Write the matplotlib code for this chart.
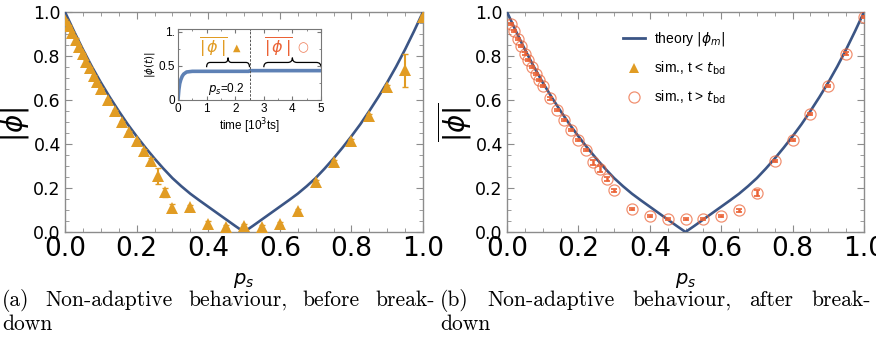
import matplotlib
matplotlib.use("Agg")
import matplotlib.pyplot as plt
from matplotlib.lines import Line2D
from matplotlib.path import Path
from matplotlib.patches import PathPatch
from matplotlib.ticker import MultipleLocator

plt.rcParams['mathtext.fontset'] = 'dejavusans'
plt.rcParams['font.family'] = ['Liberation Sans', 'DejaVu Sans']

# ---------------- data ----------------
theory_p = [0.0, 0.025, 0.05, 0.075, 0.1, 0.125, 0.15, 0.175, 0.2, 0.225, 0.25, 0.275,
            0.3, 0.325, 0.35, 0.375, 0.4, 0.425, 0.45, 0.475, 0.5,
            0.525, 0.55, 0.575, 0.6, 0.625, 0.65, 0.675, 0.7, 0.725, 0.75, 0.775,
            0.8, 0.825, 0.85, 0.875, 0.9, 0.925, 0.95, 0.975, 1.0]
theory_phi = [1.0, 0.913, 0.83, 0.752, 0.68, 0.613, 0.55, 0.49, 0.435, 0.383, 0.334, 0.288,
              0.245, 0.208, 0.174, 0.144, 0.115, 0.086, 0.057, 0.028, 0.0,
              0.028, 0.057, 0.086, 0.115, 0.144, 0.174, 0.208, 0.245, 0.288, 0.334, 0.383,
              0.435, 0.49, 0.55, 0.613, 0.68, 0.752, 0.83, 0.913, 1.0]

pa = [0.0, 0.01, 0.02, 0.03, 0.04, 0.05, 0.06, 0.07, 0.08, 0.09, 0.1,
      0.12, 0.14, 0.16, 0.18, 0.2, 0.22, 0.24, 0.26, 0.28, 0.3,
      0.35, 0.4, 0.45, 0.5, 0.55, 0.6, 0.65, 0.7, 0.75, 0.8, 0.85, 0.9, 0.95, 1.0]
phia = [0.965, 0.935, 0.905, 0.875, 0.84, 0.81, 0.775, 0.745, 0.71, 0.68, 0.65,
        0.60, 0.55, 0.50, 0.455, 0.415, 0.37, 0.325, 0.255, 0.18, 0.108,
        0.113, 0.038, 0.025, 0.028, 0.023, 0.038, 0.094, 0.227, 0.317, 0.415, 0.527, 0.657, 0.735, 0.977]
erra = [0.005, 0.005, 0.005, 0.005, 0.005, 0.005, 0.005, 0.005, 0.005, 0.005, 0.005,
        0.005, 0.005, 0.005, 0.005, 0.005, 0.008, 0.01, 0.035, 0.022, 0.018,
        0.012, 0.01, 0.008, 0.008, 0.008, 0.008, 0.01, 0.01, 0.01, 0.01, 0.01, 0.01, 0.075, 0.01]

pb = [0.01, 0.02, 0.03, 0.04, 0.05, 0.06, 0.07, 0.08, 0.09, 0.1,
      0.12, 0.14, 0.16, 0.18, 0.2, 0.22, 0.24, 0.26, 0.28, 0.3,
      0.35, 0.4, 0.45, 0.5, 0.55, 0.6, 0.65, 0.7, 0.75, 0.8, 0.85, 0.9, 0.95, 1.0]
phib = [0.947, 0.912, 0.879, 0.846, 0.811, 0.781, 0.751, 0.72, 0.69, 0.663,
        0.607, 0.554, 0.509, 0.464, 0.418, 0.373, 0.316, 0.287, 0.24, 0.189,
        0.106, 0.071, 0.059, 0.06, 0.059, 0.071, 0.098, 0.177, 0.323, 0.418, 0.536, 0.663, 0.811, 0.977]
errb = [0.005, 0.005, 0.005, 0.005, 0.005, 0.005, 0.005, 0.005, 0.005, 0.005,
        0.005, 0.005, 0.005, 0.005, 0.005, 0.006, 0.012, 0.014, 0.01, 0.006,
        0.005, 0.005, 0.005, 0.005, 0.005, 0.005, 0.005, 0.012, 0.006, 0.005, 0.005, 0.005, 0.005, 0.005]

ts_t = [0.0, 0.03, 0.06, 0.1, 0.15, 0.2, 0.3, 0.5, 1.0, 2.0, 2.48, 2.52, 3.0, 4.0, 5.0]
ts_phi = [0.0, 0.15, 0.24, 0.3, 0.35, 0.38, 0.41, 0.42, 0.42, 0.42, 0.42, 0.43, 0.43, 0.43, 0.43]
t_breakdown = 2.5
brace_ranges = [(1.0, 2.5), (3.0, 5.0)]

x_ticks = [0.0, 0.2, 0.4, 0.6, 0.8, 1.0]
y_ticks = [0.0, 0.2, 0.4, 0.6, 0.8, 1.0]

captions = [["(a)", "Non-adaptive", "behaviour,", "before", "break-"],
            ["(b)", "Non-adaptive", "behaviour,", "after", "break-"]]

# ---------------- colours ----------------
C_THEORY = '#3B5585'
C_TRI = '#E19C24'
C_CIRC = '#EB6235'
C_INSET = '#5E81B5'
C_FRAME = '#8C8C8C'

fig = plt.figure(figsize=(8.76, 3.51), dpi=100)

axL = fig.add_axes([65/876, 119/351, 358/876, 220/351])
axR = fig.add_axes([507/876, 119/351, 357/876, 220/351])


def style(ax):
    ax.set_xlim(0, 1)
    ax.set_ylim(0, 1)
    for s in ax.spines.values():
        s.set_color(C_FRAME)
        s.set_linewidth(1.0)
    ax.set_xticks(x_ticks)
    ax.set_yticks(y_ticks)
    ax.set_xticklabels([f"{v:.1f}" for v in x_ticks], fontsize=19, family='DejaVu Sans')
    ax.set_yticklabels([f"{v:.1f}" for v in y_ticks], fontsize=12.5, family='DejaVu Sans')
    ax.xaxis.set_minor_locator(MultipleLocator(0.05))
    ax.yaxis.set_minor_locator(MultipleLocator(0.05))
    ax.tick_params(which='both', direction='in', top=True, right=True, color=C_FRAME)
    ax.tick_params(which='major', length=5, width=0.8)
    ax.tick_params(which='minor', length=3, width=0.6)
    ax.tick_params(axis='x', pad=3)
    ax.tick_params(axis='y', pad=3)
    ax.set_xlabel('$p_s$', fontsize=14, labelpad=6)
    ax.set_ylabel(r'$\overline{|\phi|}$', fontsize=20, labelpad=1)


for ax in (axL, axR):
    style(ax)
    ax.plot(theory_p, theory_phi, color=C_THEORY, lw=1.9, zorder=3)

# left panel: triangles
axL.errorbar(pa, phia, yerr=erra, fmt='none', ecolor=C_TRI, elinewidth=1.5, capsize=2.5, zorder=4)
axL.plot(pa, phia, linestyle='none', marker='^', markersize=8.5, color=C_TRI,
         markeredgewidth=0, zorder=5)

# right panel: circles
axR.errorbar(pb, phib, yerr=errb, fmt='none', ecolor=C_CIRC, elinewidth=1.8, capsize=2.2,
             capthick=1.2, zorder=4)
axR.plot(pb, phib, linestyle='none', marker='o', markersize=8, markerfacecolor='none',
         markeredgecolor=C_CIRC, markeredgewidth=0.9, alpha=0.7, zorder=5)

handles = [Line2D([], [], color=C_THEORY, lw=2.0),
           Line2D([], [], linestyle='none', marker='^', markersize=7, color=C_TRI, markeredgewidth=0),
           Line2D([], [], linestyle='none', marker='o', markersize=8, markerfacecolor='none',
                  markeredgecolor=C_CIRC, markeredgewidth=0.9, alpha=0.7)]
labels = [r'theory $|\phi_m|$', r'sim., t < $t_{\mathrm{bd}}$', r'sim., t > $t_{\mathrm{bd}}$']
axR.legend(handles, labels, loc='upper left', bbox_to_anchor=(0.29, 0.975), frameon=False,
           fontsize=10, handlelength=1.6, labelspacing=0.85, handletextpad=0.6)

# ---------------- inset ----------------
axI = fig.add_axes([178/876, 251/351, 143/876, 71/351])
axI.plot(ts_t, ts_phi, color=C_INSET, lw=2.6, solid_joinstyle='round')
axI.axvline(t_breakdown, color='#555555', lw=0.7, ls=(0, (2.5, 1.5)))
axI.set_xlim(0, 5)
axI.set_ylim(0, 1.04)
axI.set_xticks([0, 1, 2, 3, 4, 5])
axI.set_yticks([0, 0.5, 1.0])
axI.set_yticklabels(['0', '0.5', '1.'])
axI.xaxis.set_minor_locator(MultipleLocator(0.5))
axI.yaxis.set_minor_locator(MultipleLocator(0.25))
for s in axI.spines.values():
    s.set_color('#777777')
    s.set_linewidth(0.8)
axI.tick_params(which='both', direction='in', top=True, right=True, color='#777777',
                labelsize=8.5, pad=2)
axI.tick_params(which='major', length=3)
axI.tick_params(which='minor', length=1.5)
axI.set_xlabel(r'time [10$^3$ts]', fontsize=8.5, labelpad=1)
axI.set_ylabel(r'$|\phi(t)|$', fontsize=7.5, labelpad=1)
axI.text(1.05, 0.16, r'$p_s$=0.2', fontsize=8.5, va='center', ha='left')


def brace(ax, x0, x1, y, h):
    xm = 0.5 * (x0 + x1)
    d = 0.08 * (x1 - x0) if (x1 - x0) < 3 else 0.12
    verts = [(x0, y - h), (x0, y), (x0 + d, y), (x0 + d, y),
             (xm - d, y), (xm, y), (xm, y + h),
             (xm, y), (xm + d, y), (xm + d, y),
             (x1 - d, y), (x1, y), (x1, y - h)]
    codes = [Path.MOVETO, Path.CURVE3, Path.CURVE3, Path.LINETO,
             Path.LINETO, Path.CURVE3, Path.CURVE3,
             Path.CURVE3, Path.CURVE3, Path.LINETO,
             Path.LINETO, Path.CURVE3, Path.CURVE3]
    ax.add_patch(PathPatch(Path(verts, codes), fill=False, lw=0.9, color='black',
                           clip_on=False))


for (b0, b1) in brace_ranges:
    brace(axI, b0, b1, 0.55, 0.07)

axI.text(1.25, 0.76, r'$\overline{|\,\phi\,|}$', color=C_TRI, fontsize=11.5, ha='center', va='center')
axI.text(2.05, 0.76, '▲', color=C_TRI, fontsize=7, ha='center', va='center', family='DejaVu Sans')
axI.text(3.5, 0.76, r'$\overline{|\,\phi\,|}$', color=C_CIRC, fontsize=11.5, ha='center', va='center')
axI.text(4.38, 0.76, '○', color=C_CIRC, fontsize=9, ha='center', va='center', family='DejaVu Sans',
         alpha=0.8)

# ---------------- captions (justified) ----------------
fig.canvas.draw()
renderer = fig.canvas.get_renderer()


def justified(words, x0, x1, y, fs):
    texts = [fig.text(0, y, w, fontsize=fs, family='cmr10', va='center', ha='left') for w in words]
    widths = [t.get_window_extent(renderer).width for t in texts]
    gap = (x1 - x0 - sum(widths)) / (len(words) - 1)
    x = x0
    for t, w in zip(texts, widths):
        t.set_x(x / 876)
        x += w + gap


CAP_FS = 15.5
justified(captions[0], 2, 435, 1 - 300/351, CAP_FS)
fig.text(2/876, 1 - 324/351, 'down', fontsize=CAP_FS, family='cmr10', va='center', ha='left')
justified(captions[1], 440, 871, 1 - 300/351, CAP_FS)
fig.text(440/876, 1 - 324/351, 'down', fontsize=CAP_FS, family='cmr10', va='center', ha='left')

fig.savefig('out.png', dpi=100)
